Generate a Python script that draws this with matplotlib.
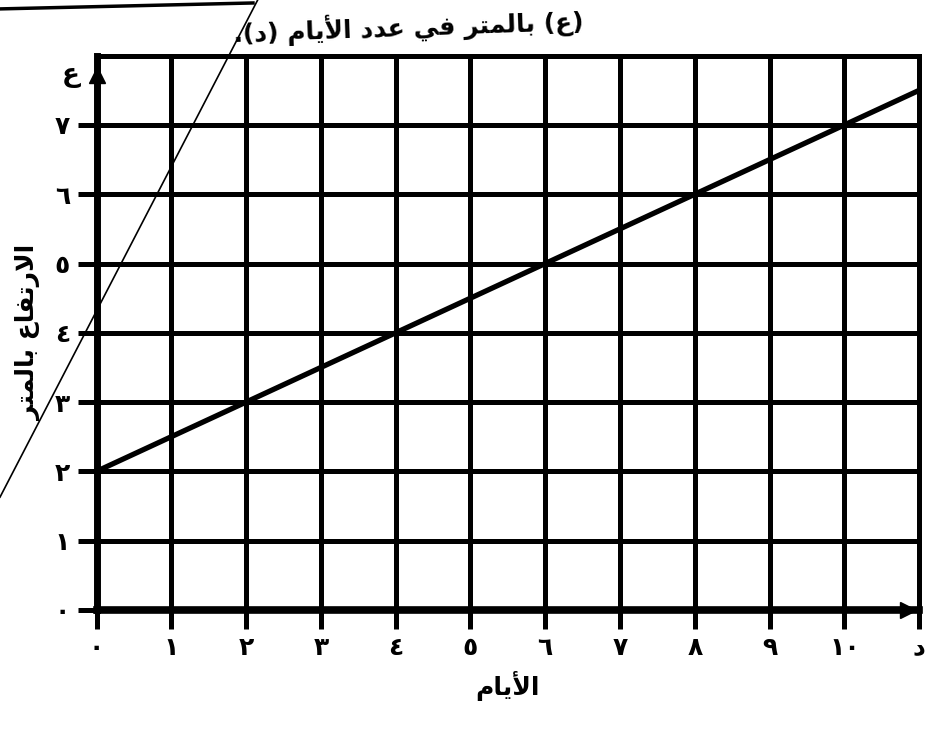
import matplotlib
matplotlib.use("Agg")
import matplotlib.pyplot as plt
from matplotlib.lines import Line2D

# Values: height (m) against number of days
days = [0, 2, 4, 6, 8, 10, 11]
heights = [2, 3, 4, 5, 6, 7, 7.5]

x_ticks = list(range(12))
x_tick_labels = ["٠", "١", "٢", "٣", "٤", "٥", "٦", "٧", "٨", "٩", "١٠", "د"]
y_ticks = list(range(8))
y_tick_labels = ["٠", "١", "٢", "٣", "٤", "٥", "٦", "٧"]

x_title = "الأيام"
y_title = "الارتفاع بالمتر"
y_symbol = "ع"
top_text = "(ع) بالمتر في عدد الأيام (د)."

# matplotlib has no Arabic shaping, so map letters to presentation forms by hand
FORMS = {
    "ا": ("\ufe8d", "\ufe8e", None, None),
    "أ": ("\ufe83", "\ufe84", None, None),
    "د": ("\ufea9", "\ufeaa", None, None),
    "ر": ("\ufead", "\ufeae", None, None),
    "ب": ("\ufe8f", "\ufe90", "\ufe91", "\ufe92"),
    "ت": ("\ufe95", "\ufe96", "\ufe97", "\ufe98"),
    "ع": ("\ufec9", "\ufeca", "\ufecb", "\ufecc"),
    "ف": ("\ufed1", "\ufed2", "\ufed3", "\ufed4"),
    "ل": ("\ufedd", "\ufede", "\ufedf", "\ufee0"),
    "م": ("\ufee1", "\ufee2", "\ufee3", "\ufee4"),
    "ي": ("\ufef1", "\ufef2", "\ufef3", "\ufef4"),
}
LAM_ALEF = {"ا": ("\ufefb", "\ufefc"), "أ": ("\ufef7", "\ufef8")}
MIRROR = {"(": ")", ")": "("}


def shape(text):
    out = []
    i = 0
    n = len(text)
    while i < n:
        c = text[i]
        if c not in FORMS:
            out.append(MIRROR.get(c, c))
            i += 1
            continue
        prev_joins = i > 0 and text[i - 1] in FORMS and FORMS[text[i - 1]][2] is not None
        if c == "ل" and i + 1 < n and text[i + 1] in LAM_ALEF:
            out.append(LAM_ALEF[text[i + 1]][1 if prev_joins else 0])
            i += 2
            continue
        iso, fin, ini, med = FORMS[c]
        next_joins = i + 1 < n and text[i + 1] in FORMS and ini is not None
        if prev_joins and next_joins:
            g = med
        elif prev_joins:
            g = fin
        elif next_joins:
            g = ini
        else:
            g = iso
        out.append(g)
        i += 1
    return "".join(reversed(out))


plt.rcParams["font.family"] = ["DejaVu Sans"]

fig = plt.figure(figsize=(9.37, 7.42), dpi=100)
ax = fig.add_axes([0.103, 0.178, 0.878, 0.747])

GRID_LW = 3.6
ax.set_xlim(0, 11)
ax.set_ylim(0, 8)
ax.set_xticks(x_ticks)
ax.set_xticklabels(x_tick_labels, fontsize=18, fontweight="bold")
ax.set_yticks(y_ticks)
ax.set_yticklabels(y_tick_labels, fontsize=18, fontweight="bold")
ax.tick_params(direction="out", length=14, width=GRID_LW, color="black", pad=5)

for xv in x_ticks[1:]:
    ax.axvline(xv, color="black", lw=GRID_LW, clip_on=False)
for yv in range(1, 9):
    ax.axhline(yv, color="black", lw=GRID_LW, clip_on=False)

for side in ["top", "right"]:
    ax.spines[side].set_visible(False)
ax.spines["left"].set_linewidth(5)
ax.spines["bottom"].set_linewidth(5.5)

# arrow heads on the axes
ax.plot(0, 7.72, marker="^", color="black", markersize=11, clip_on=False)
ax.plot(10.85, 0, marker=">", color="black", markersize=11, clip_on=False)

ax.plot(days, heights, color="black", lw=3.8, solid_capstyle="round", zorder=3)

ax.text(-0.22, 7.72, shape(y_symbol), fontsize=19, fontweight="bold",
        ha="right", va="center")

ax.set_xlabel(shape(x_title), fontsize=18, fontweight="bold", labelpad=8)
ax.set_ylabel(shape(y_title), fontsize=18, fontweight="bold", labelpad=10)

# heading line of the exercise, tilted like the scan
fig.text(0.25, 0.943, shape(top_text), fontsize=18, fontweight="bold",
         rotation=2, ha="left", va="baseline", rotation_mode="anchor")

# pointer line and rule from the printed page
fig.add_artist(Line2D([0.0, 0.275], [0.33, 1.0], color="black", lw=1.2))
fig.add_artist(Line2D([0.0, 0.27], [0.988, 0.996], color="black", lw=2.5))

fig.savefig("out.png", dpi=100)
